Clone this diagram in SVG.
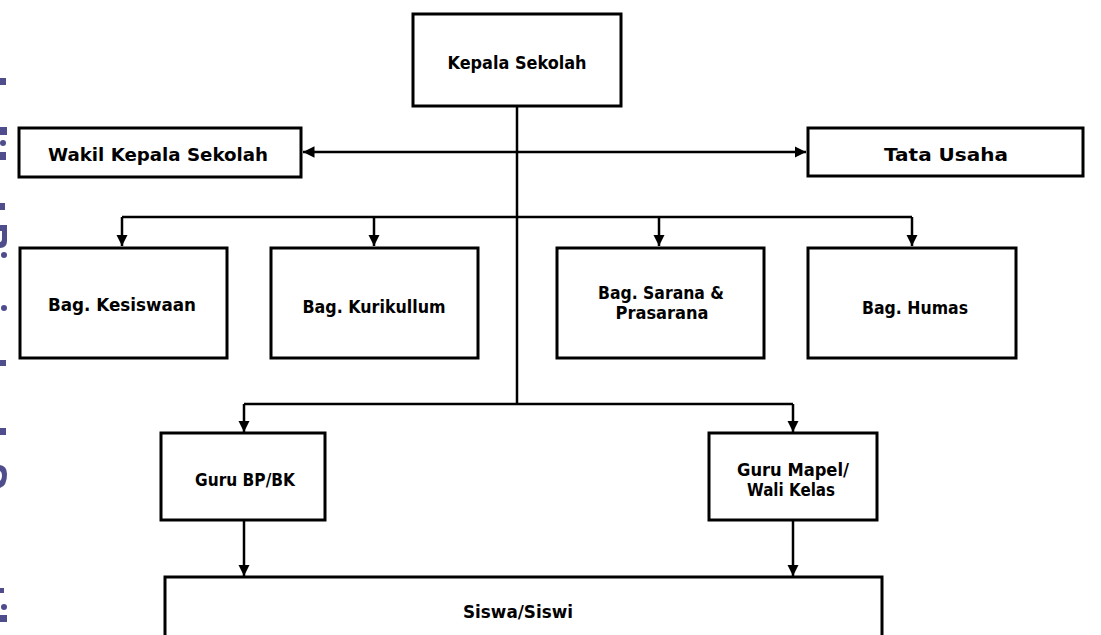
<svg xmlns="http://www.w3.org/2000/svg" width="1101" height="635" viewBox="0 0 1101 635">
<style>
.box{fill:#fff;stroke:#000;stroke-width:3}
.t{font-family:"DejaVu Sans",Verdana,sans-serif;font-weight:bold;font-size:18px;fill:#000;text-anchor:middle}
.c{fill:none;stroke:#000;stroke-width:2.5}
.frag{fill:#4f4d8c}
</style>
<defs>
<marker id="ah" viewBox="0 0 10 10" refX="10" refY="5" markerWidth="4.6" markerHeight="4.6" orient="auto-start-reverse" markerUnits="strokeWidth">
<path d="M0,0 L10,5 L0,10 z" fill="#000"/>
</marker>
</defs>
<rect width="1101" height="635" fill="#fff"/>
<g id="edge-fragments">
<rect class="frag" x="0" y="78" width="6" height="7"/>
<rect class="frag" x="0" y="127" width="7" height="8"/>
<circle class="frag" cx="3" cy="143" r="3"/>
<rect class="frag" x="0" y="152" width="6" height="8"/>
<rect class="frag" x="0" y="203" width="5" height="7"/>
<path class="frag" d="M0,225 H7 V241 Q7,248 0,248 V242 Q2,242 2,238 V231 H0 z"/>
<circle class="frag" cx="4" cy="255" r="3"/>
<circle class="frag" cx="4" cy="308" r="3"/>
<rect class="frag" x="0" y="360" width="6" height="6"/>
<rect class="frag" x="0" y="428" width="6" height="7"/>
<path class="frag" d="M0,465 Q7,466 7,474 Q7,486 0,488 V481 Q2,479 2,476 Q2,472 0,471 z"/>
<rect class="frag" x="0" y="588" width="4" height="5"/>
<circle class="frag" cx="4" cy="607" r="3"/>
<rect class="frag" x="0" y="615" width="7" height="7"/>
</g>
<g id="connectors">
<path class="c" d="M517,106 V404"/>
<path class="c" d="M303,152 H806" marker-start="url(#ah)" marker-end="url(#ah)"/>
<path class="c" d="M122,217 H912"/>
<path class="c" d="M122,217 V246" marker-end="url(#ah)"/>
<path class="c" d="M374,217 V246" marker-end="url(#ah)"/>
<path class="c" d="M659,217 V246" marker-end="url(#ah)"/>
<path class="c" d="M912,217 V246" marker-end="url(#ah)"/>
<path class="c" d="M244,404 H793"/>
<path class="c" d="M244,404 V432" marker-end="url(#ah)"/>
<path class="c" d="M793,404 V432" marker-end="url(#ah)"/>
<path class="c" d="M244,520 V576" marker-end="url(#ah)"/>
<path class="c" d="M793,520 V576" marker-end="url(#ah)"/>
</g>
<g id="kepala-sekolah">
<rect class="box" x="413" y="14" width="208" height="92"/>
<text class="t" x="517" y="69" textLength="139" lengthAdjust="spacingAndGlyphs">Kepala Sekolah</text>
</g>
<g id="wakil-kepala-sekolah">
<rect class="box" x="19" y="128" width="282" height="49"/>
<text class="t" x="158" y="161" textLength="220" lengthAdjust="spacingAndGlyphs">Wakil Kepala Sekolah</text>
</g>
<g id="tata-usaha">
<rect class="box" x="808" y="128" width="275" height="48"/>
<text class="t" x="946" y="161" textLength="124" lengthAdjust="spacingAndGlyphs">Tata Usaha</text>
</g>
<g id="bag-kesiswaan">
<rect class="box" x="20" y="248" width="207" height="110"/>
<text class="t" x="122" y="311" textLength="148" lengthAdjust="spacingAndGlyphs">Bag. Kesiswaan</text>
</g>
<g id="bag-kurikullum">
<rect class="box" x="271" y="248" width="207" height="110"/>
<text class="t" x="374" y="313" textLength="143" lengthAdjust="spacingAndGlyphs">Bag. Kurikullum</text>
</g>
<g id="bag-sarana">
<rect class="box" x="557" y="248" width="207" height="110"/>
<text class="t" x="661" y="299" textLength="126" lengthAdjust="spacingAndGlyphs">Bag. Sarana &amp;</text>
<text class="t" x="662" y="319" textLength="93" lengthAdjust="spacingAndGlyphs">Prasarana</text>
</g>
<g id="bag-humas">
<rect class="box" x="808" y="248" width="208" height="110"/>
<text class="t" x="915" y="314" textLength="106" lengthAdjust="spacingAndGlyphs">Bag. Humas</text>
</g>
<g id="guru-bp-bk">
<rect class="box" x="161" y="433" width="164" height="87"/>
<text class="t" x="245" y="486" textLength="100" lengthAdjust="spacingAndGlyphs">Guru BP/BK</text>
</g>
<g id="guru-mapel">
<rect class="box" x="709" y="433" width="168" height="87"/>
<text class="t" x="793" y="476" textLength="112" lengthAdjust="spacingAndGlyphs">Guru Mapel/</text>
<text class="t" x="791" y="496" textLength="88" lengthAdjust="spacingAndGlyphs">Wali Kelas</text>
</g>
<g id="siswa-siswi">
<rect class="box" x="165" y="577" width="717" height="70"/>
<text class="t" x="518" y="618" textLength="110" lengthAdjust="spacingAndGlyphs">Siswa/Siswi</text>
</g>
</svg>
